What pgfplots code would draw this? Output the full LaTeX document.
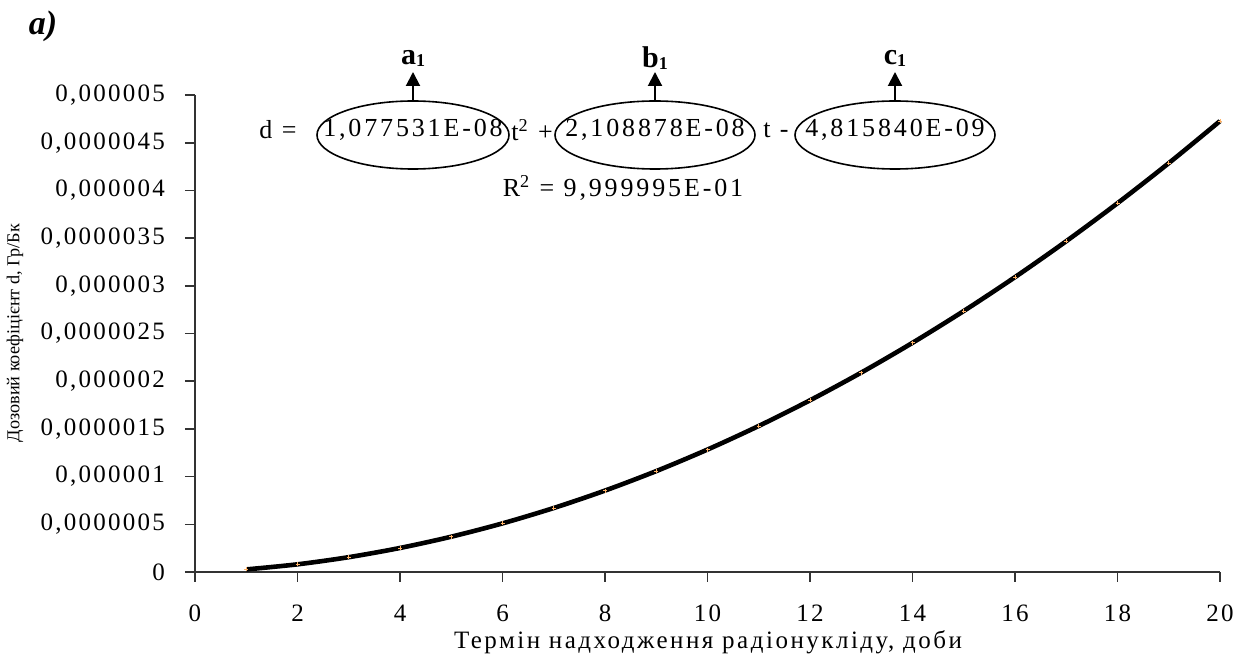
\documentclass[border=0pt]{standalone}
\usepackage{fontspec}
\setmainfont{Liberation Serif}
\newfontfamily\spacedy[LetterSpace=9]{Liberation Serif}
\newfontfamily\spacedx[LetterSpace=10]{Liberation Serif}
\newfontfamily\spacedeq[LetterSpace=11]{Liberation Serif}
\usepackage{pgfplots}
\pgfplotsset{compat=1.18}
\usetikzlibrary{arrows.meta}

\begin{document}
\begin{tikzpicture}
\useasboundingbox (-97.5pt,-46pt) rectangle (520.5pt,286pt);
\begin{axis}[
    anchor=origin, at={(0pt,0pt)},
    scale only axis,
    width=512.5pt, height=238.5pt,
    xmin=0, xmax=20, ymin=0, ymax=0.000005,
    axis x line*=bottom, axis y line*=left,
    axis line style={line width=0.8pt, black!80},
    every tick/.style={line width=0.8pt, black!80},
    tick align=outside,
    major tick length=5pt,
    xtick={0,2,...,20},
    xticklabels={0,2,4,6,8,10,12,14,16,18,20},
    ytick={0,0.0000005,0.000001,0.0000015,0.000002,0.0000025,0.000003,0.0000035,0.000004,0.0000045,0.000005},
    yticklabels={0,{0,0000005},{0,000001},{0,0000015},{0,000002},{0,0000025},{0,000003},{0,0000035},{0,000004},{0,0000045},{0,000005}},
    scaled y ticks=false,
    yticklabel style={font=\fontsize{12.5}{14}\spacedy, xshift=-6.5pt},
    xticklabel style={font=\fontsize{12.5}{14}\spacedy, yshift=-8pt},
    clip=false,
]
% data points (orange markers of the source series)
\addplot[only marks, mark=+, mark size=1pt, color=orange!60] coordinates {
    (1,0.00000002705) (2,0.00000008046) (3,0.00000015543) (4,0.00000025194)
    (5,0.00000037001) (6,0.00000050963) (7,0.00000067080) (8,0.00000085351)
    (9,0.00000105778) (10,0.00000128360) (11,0.00000153097) (12,0.00000179989)
    (13,0.00000209037) (14,0.00000240239) (15,0.00000273596) (16,0.00000309108)
    (17,0.00000346776) (18,0.00000386598) (19,0.00000428576) (20,0.00000472708)
};
% trend line
\addplot[black, line width=2.3pt, smooth] coordinates {
    (1,0.00000002705) (2,0.00000008046) (3,0.00000015543) (4,0.00000025194)
    (5,0.00000037001) (6,0.00000050963) (7,0.00000067080) (8,0.00000085351)
    (9,0.00000105778) (10,0.00000128360) (11,0.00000153097) (12,0.00000179989)
    (13,0.00000209037) (14,0.00000240239) (15,0.00000273596) (16,0.00000309108)
    (17,0.00000346776) (18,0.00000386598) (19,0.00000428576) (20,0.00000472708)
};
\end{axis}

% titles and axis labels
\node[font=\fontsize{17}{19}\selectfont\bfseries\itshape] at (-76pt,273pt) {a)};
\node[font=\fontsize{12.5}{14}\spacedx] at (256.5pt,-35pt) {Термін надходження радіонукліду, доби};
\node[rotate=90, font=\fontsize{9.1}{10}\selectfont] at (-90pt,119.5pt) {Дозовий коефіцієнт d, Гр/Бк};

% equation with marked coefficients
\begin{scope}[every node/.style={font=\fontsize{13}{15}\spacedeq}]
\node at (41.5pt,221pt) {d =};
\node at (109pt,221pt) {1,077531E-08};
\node at (168.5pt,221pt) {t\textsuperscript{2} +};
\node at (230pt,221pt) {2,108878E-08};
\node at (290.5pt,221pt) {t -};
\node at (350pt,221pt) {4,815840E-09};
\node at (214pt,192pt) {R\textsuperscript{2} = 9,999995E-01};
\end{scope}
\draw[line width=0.8pt] (109pt,218.5pt) ellipse [x radius=48pt, y radius=17pt];
\draw[line width=0.8pt] (230pt,218.5pt) ellipse [x radius=50pt, y radius=17pt];
\draw[line width=0.8pt] (350pt,218.5pt) ellipse [x radius=50pt, y radius=17pt];
\foreach \cx/\lab in {109/a, 230/b, 350/c} {
  \draw[line width=1pt, -{Triangle[width=7pt,length=7pt]}] (\cx pt,235.5pt) -- (\cx pt,250pt);
  \node[font=\fontsize{15}{17}\selectfont\bfseries] at (\cx pt,257pt) {\lab\raisebox{-0.15ex}{\fontsize{9}{10}\selectfont 1}};
}
\end{tikzpicture}
\end{document}
